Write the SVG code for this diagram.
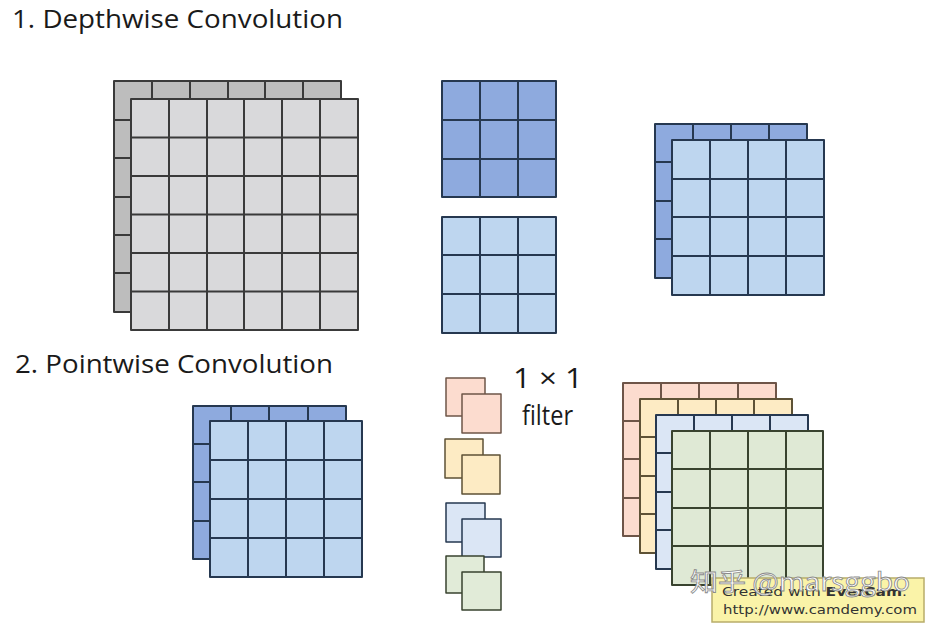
<svg xmlns="http://www.w3.org/2000/svg" width="933" height="626" viewBox="0 0 933 626">
<style>
.t{font-family:"Open Sans","Liberation Sans",sans-serif;fill:#1a1a1a}
.g{stroke-width:2;stroke-linejoin:round}
.gl{fill:none;stroke-width:2}
.gray{stroke:#3a3a3a}
.blue{stroke:#263850}
.pink{stroke:#6e5548}
.yel{stroke:#5e5236}
.grn{stroke:#39432f}
.sm{stroke-width:1.5}
</style>
<rect width="933" height="626" fill="#ffffff"/>
<text class="t" x="12" y="28" font-size="26" textLength="331" lengthAdjust="spacingAndGlyphs">1. Depthwise Convolution</text>
<text class="t" x="15" y="373" font-size="26" textLength="318" lengthAdjust="spacingAndGlyphs">2. Pointwise Convolution</text>

<g id="input-gray-stack">
<rect class="g gray" x="114" y="81" width="227" height="231" fill="#bdbdbd"/>
<path class="gl gray" d="M152 81V312M190 81V312M228 81V312M265 81V312M303 81V312M114 120H341M114 158H341M114 197H341M114 235H341M114 273H341"/>
<rect class="g gray" x="131" y="99" width="227" height="231" fill="#d9d9db"/>
<path class="gl gray" d="M169 99V330M207 99V330M244 99V330M282 99V330M320 99V330M131 137.5H358M131 176H358M131 214.5H358M131 253H358M131 291.5H358"/>
</g>

<g id="filter-dark-blue">
<rect class="g blue" x="442" y="81" width="114" height="116" fill="#8eaade"/>
<path class="gl blue" d="M480 81V197M518 81V197M442 120H556M442 159H556"/>
</g>

<g id="filter-light-blue">
<rect class="g blue" x="442" y="217" width="114" height="116" fill="#bed6ef"/>
<path class="gl blue" d="M480 217V333M518 217V333M442 255H556M442 294H556"/>
</g>

<g id="depthwise-output">
<rect class="g blue" x="655" y="124" width="152" height="154" fill="#8eaade"/>
<path class="gl blue" d="M693 124V278M731 124V278M769 124V278M655 162H807M655 201H807M655 239H807"/>
<rect class="g blue" x="672" y="140" width="152" height="155" fill="#bed6ef"/>
<path class="gl blue" d="M710 140V295M748 140V295M786 140V295M672 179H824M672 217H824M672 256H824"/>
</g>

<g id="pointwise-input">
<rect class="g blue" x="193" y="406" width="153" height="153" fill="#8eaade"/>
<path class="gl blue" d="M231 406V559M269 406V559M308 406V559M193 444H346M193 482H346M193 521H346"/>
<rect class="g blue" x="210" y="421" width="152" height="156" fill="#bed6ef"/>
<path class="gl blue" d="M248 421V577M286 421V577M324 421V577M210 460H362M210 499H362M210 538H362"/>
</g>

<g id="filters-1x1">
<rect class="g sm pink" x="446" y="378" width="39" height="38" fill="#fcdccf"/>
<rect class="g sm pink" x="462" y="394" width="39" height="39" fill="#fcdccf"/>
<rect class="g sm yel" x="445" y="439" width="38" height="39" fill="#fdebc4"/>
<rect class="g sm yel" x="462" y="455" width="38" height="39" fill="#fdebc4"/>
<rect class="g sm blue" x="446" y="503" width="39" height="39" fill="#dbe6f5"/>
<rect class="g sm blue" x="462" y="519" width="39" height="38" fill="#dbe6f5"/>
<rect class="g sm grn" x="446" y="556" width="38" height="37" fill="#e1ebd8"/>
<rect class="g sm grn" x="462" y="572" width="39" height="38" fill="#e1ebd8"/>
<text class="t" x="513" y="388" font-size="27" textLength="70" lengthAdjust="spacingAndGlyphs">1 × 1</text>
<text class="t" x="522" y="425" font-size="27" textLength="51" lengthAdjust="spacingAndGlyphs">filter</text>
</g>

<g id="pointwise-output">
<rect class="g pink" x="623" y="383" width="153" height="153" fill="#fcdccf"/>
<path class="gl pink" d="M661 383V536M699 383V536M738 383V536M623 421H776M623 459H776M623 498H776"/>
<rect class="g yel" x="640" y="399" width="152" height="154" fill="#fdebc4"/>
<path class="gl yel" d="M678 399V553M716 399V553M754 399V553M640 437H792M640 476H792M640 514H792"/>
<rect class="g blue" x="656" y="415" width="152" height="154" fill="#dbe6f5"/>
<path class="gl blue" d="M694 415V569M732 415V569M770 415V569M656 453H808M656 492H808M656 530H808"/>
<rect class="g grn" x="672" y="431" width="151" height="154" fill="#dfe9d5"/>
<path class="gl grn" d="M710 431V585M748 431V585M786 431V585M672 469H823M672 508H823M672 546H823"/>
</g>

<g id="watermark">
<rect x="712" y="578" width="212" height="44" fill="#faf3a8" stroke="#b8ad6a" stroke-width="1.5"/>
<text x="722" y="596" font-family="'DejaVu Sans',sans-serif" font-size="12.5" fill="#333" textLength="185" lengthAdjust="spacingAndGlyphs">Created with <tspan font-weight="bold">EverCam</tspan>.</text>
<text x="723" y="614" font-family="'DejaVu Sans',sans-serif" font-size="13" fill="#333" textLength="194" lengthAdjust="spacingAndGlyphs">http://www.camdemy.com</text>
<text x="690" y="591" font-family="'Noto Sans CJK SC','Noto Sans',sans-serif" font-size="25" fill="#ffffff" stroke="#8a8a8a" stroke-width="0.8" textLength="220" lengthAdjust="spacingAndGlyphs">知乎 @marsggbo</text>
</g>
</svg>
